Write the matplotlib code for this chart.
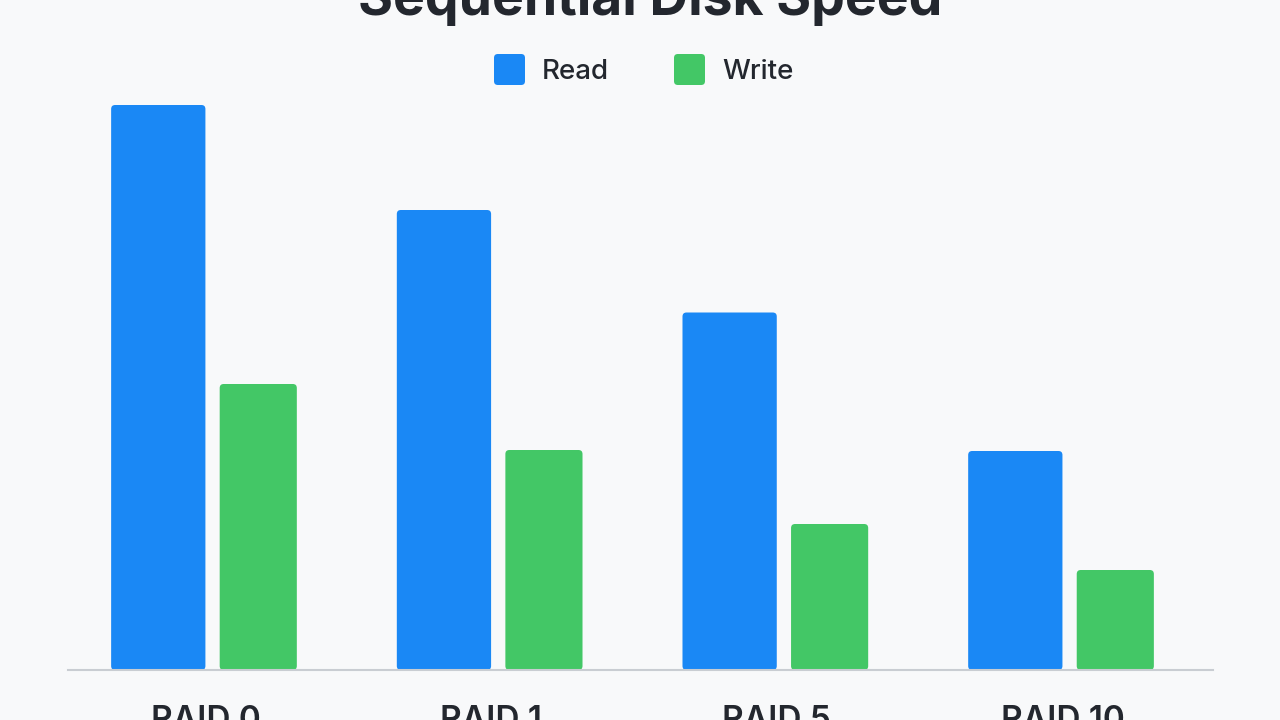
import matplotlib
matplotlib.use("Agg")
import matplotlib.pyplot as plt
from matplotlib.patches import FancyBboxPatch
import numpy as np

plt.rcParams['font.family'] = ['Inter', 'DejaVu Sans']

# data (MB/s, no axis shown)
raid_levels = ['RAID 0', 'RAID 1', 'RAID 5', 'RAID 10']
read_speed = [1130, 920, 715, 438]
write_speed = [572, 440, 292, 200]

BLUE = '#1a88f5'
GREEN = '#43c766'
BG = '#f8f9fa'
TEXT = '#23272e'

fig = plt.figure(figsize=(12.8, 7.2), dpi=100, facecolor=BG)
ax = fig.add_axes([68 / 1280, 50 / 720, 1145 / 1280, 570 / 720])
ax.set_facecolor(BG)

x = np.arange(len(raid_levels))
b1 = ax.bar(x - 0.33, read_speed, width=0.33, align='edge', color=BLUE)
b2 = ax.bar(x + 0.05, write_speed, width=0.27, align='edge', color=GREEN)

ax.set_xlim(-0.481, 3.527)
ax.set_ylim(0, 1140)

# round the bar corners a little
px_x = 4.008 / 1145
px_y = 1140 / 570
for bars in (b1, b2):
    for p in bars:
        bx, by = p.get_xy()
        w, h = p.get_width(), p.get_height()
        r = 4 * px_x
        rp = FancyBboxPatch((bx, by), w, h,
                            boxstyle=f"round,pad=0,rounding_size={r}",
                            mutation_aspect=px_y / px_x,
                            facecolor=p.get_facecolor(), edgecolor='none')
        p.remove()
        ax.add_patch(rp)

for s in ['top', 'right', 'left']:
    ax.spines[s].set_visible(False)
ax.spines['bottom'].set_color('#c9cdd2')
ax.spines['bottom'].set_linewidth(1.5)
ax.set_yticks([])
ax.set_xticks(x)
ax.set_xticklabels(raid_levels, fontsize=24, fontweight='semibold', color=TEXT)
ax.tick_params(axis='x', length=0, pad=25)

fig.text(650 / 1280, 1 - 15 / 720, 'Sequential Disk Speed', ha='center', va='baseline',
         fontsize=38.5, fontweight='bold', color=TEXT)

# legend
for sx, col, lab in [(494, BLUE, 'Read'), (674, GREEN, 'Write')]:
    fig.patches.append(FancyBboxPatch((sx / 1280, 1 - 85 / 720), 31 / 1280, 31 / 720,
                                      boxstyle="round,pad=0,rounding_size=0.003",
                                      mutation_aspect=1280 / 720,
                                      transform=fig.transFigure, facecolor=col,
                                      edgecolor='none'))
    fig.text((sx + 48) / 1280, 1 - 72 / 720, lab, ha='left', va='center',
             fontsize=20, fontweight='medium', color=TEXT)

fig.savefig('out.png', dpi=100, facecolor=BG)
